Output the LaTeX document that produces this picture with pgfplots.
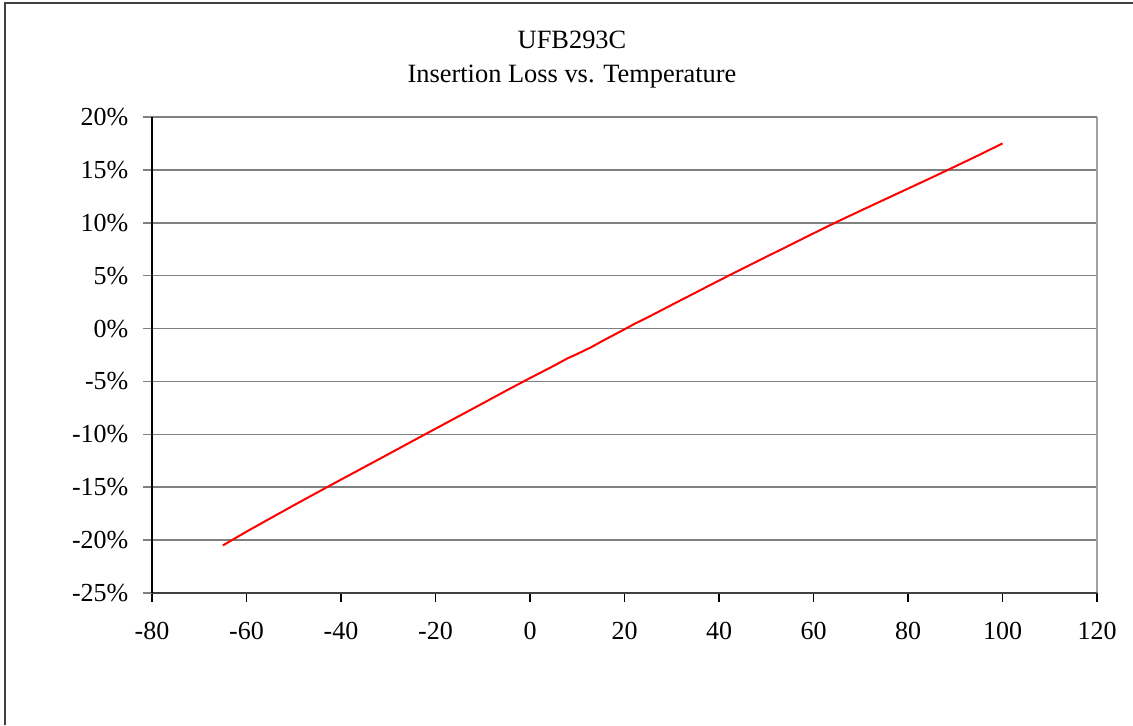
\documentclass[border=0pt]{standalone}
\usepackage{fontspec}
\setmainfont{Liberation Serif}
\usepackage{pgfplots}
\pgfplotsset{compat=1.18}
\definecolor{gridgray}{HTML}{808080}
\definecolor{framegray}{HTML}{404040}
\definecolor{rightgray}{HTML}{A0A0A0}
\begin{document}
\begin{tikzpicture}
\useasboundingbox (0pt,0pt) rectangle (566.5pt,362.5pt);
% outer chart frame (left and top visible)
\draw[framegray, line width=0.8pt] (2.5pt,0pt) -- (2.5pt,361pt) -- (566.5pt,361pt);
% title
\node[anchor=base, font=\fontsize{13.2}{15}\selectfont] at (286pt,338.3pt) {UFB293C};
\node[anchor=base, font=\fontsize{13.2}{15}\selectfont] at (286pt,321.1pt) {Insertion Loss vs. Temperature};
\begin{axis}[
  at={(76pt,66pt)}, anchor=south west,
  scale only axis, width=472.5pt, height=238pt,
  xmin=-80, xmax=120, ymin=-25, ymax=20,
  xtick={-80,-60,...,120}, ytick={-25,-20,...,20},
  axis line style={draw=none},
  tick align=outside,
  major tick length=4.3pt,
  xtick pos=bottom, ytick pos=left,
  xtick style={draw=black, line width=0.6pt},
  ytick style={draw=gridgray, line width=0.75pt},
  ymajorgrids, grid style={draw=gridgray, line width=0.75pt},
  /pgf/number format/assume math mode=true,
  ticklabel style={font=\fontsize{13}{15}\selectfont},
  xticklabel style={yshift=-7pt},
  yticklabel style={xshift=-4pt},
  yticklabel={\pgfmathprintnumber{\tick}\%},
  clip=false,
]
\draw[rightgray, line width=1pt] (rel axis cs:1,0) -- (rel axis cs:1,1);
\draw[gridgray, line width=0.75pt] (rel axis cs:0,1) -- (rel axis cs:1,1);
\draw[framegray, line width=1pt] (rel axis cs:0,0) -- (rel axis cs:1,0);
\draw[black, line width=0.6pt] (rel axis cs:0,0) -- (rel axis cs:0,1);
\addplot[red, line width=1pt, mark=none] coordinates {
(-65,-20.5) (-60,-19.2) (-55,-17.95) (-50,-16.71) (-45,-15.49)
(-40,-14.28) (-35,-13.08) (-30,-11.88) (-25,-10.67) (-20,-9.47)
(-15,-8.27) (-10,-7.07) (-5,-5.86) (0,-4.68) (5,-3.53)
(8,-2.80) (10,-2.40) (13,-1.75) (15,-1.25) (20,-0.07) (22,0.42) (25,1.08)
(30,2.24) (35,3.39) (40,4.54) (45,5.67) (50,6.78)
(55,7.89) (60,9.0) (65,10.10) (70,11.15) (75,12.19)
(80,13.23) (85,14.27) (90,15.33) (95,16.4) (100,17.5)
};
\end{axis}
\end{tikzpicture}
\end{document}
